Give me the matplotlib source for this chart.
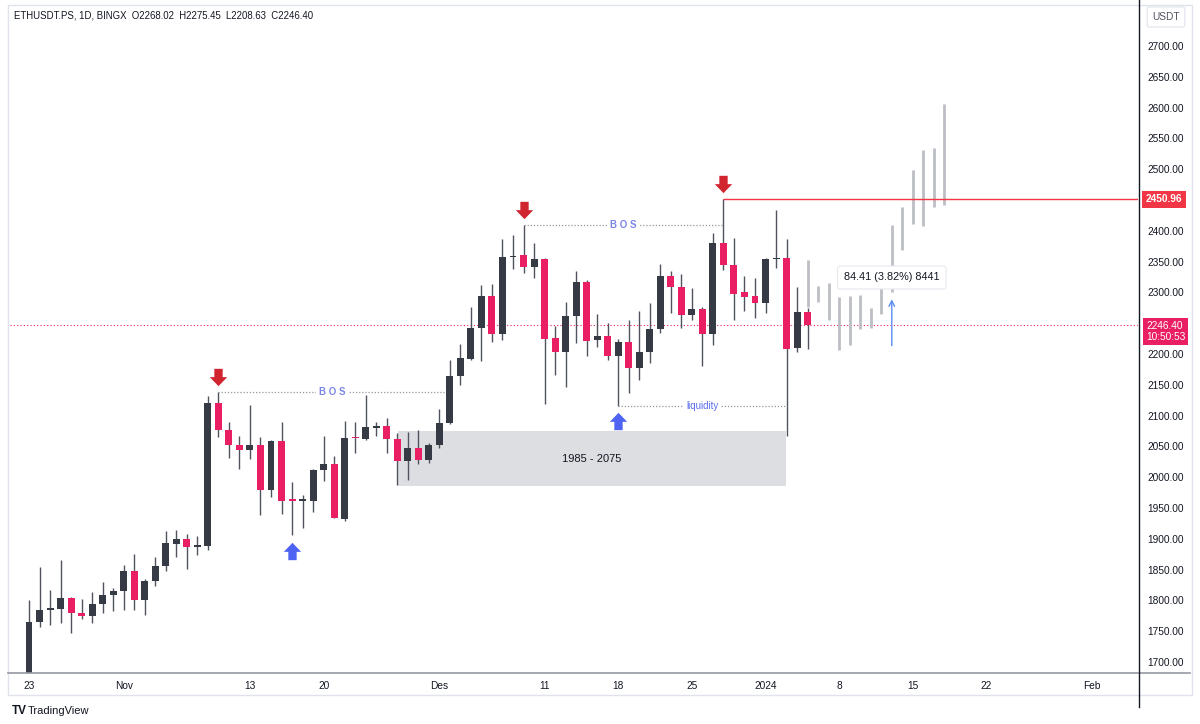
import matplotlib
matplotlib.use('Agg')
import matplotlib.pyplot as plt
import pandas as pd
from matplotlib.path import Path
from matplotlib.patches import Rectangle
from matplotlib.lines import Line2D
from matplotlib.transforms import offset_copy, blended_transform_factory

plt.rcParams['font.family'] = ['Liberation Sans', 'DejaVu Sans']

# daily candles ETHUSDT.PS, from 23 Oct 2023
start = pd.Timestamp('2023-10-23')
opens = [1665, 1765, 1785, 1786, 1804, 1780, 1775, 1794, 1809, 1815,
         1847, 1801, 1832, 1856, 1892, 1900, 1887, 1888, 2121, 2077,
         2053, 2044, 2053, 1979, 2059, 1963, 1962, 1962, 2012, 2021,
         1932, 2065, 2062, 2080, 2083, 2062, 2027, 2048, 2028, 2052,
         2088, 2164, 2192, 2243, 2294, 2232, 2357, 2360, 2341, 2354,
         2226, 2204, 2261, 2317, 2222, 2230, 2197, 2220, 2178, 2203,
         2241, 2327, 2309, 2264, 2273, 2232, 2381, 2345, 2300, 2294,
         2282, 2354, 2356, 2210, 2268.02]
highs = [1801, 1855, 1817, 1866, 1806, 1803, 1813, 1830, 1820, 1858,
         1876, 1834, 1870, 1913, 1914, 1908, 1905, 2132, 2138, 2089,
         2067, 2118, 2066, 2060, 2090, 1992, 1971, 2013, 2067, 2034,
         2092, 2090, 2134, 2090, 2096, 2071, 2074, 2077, 2055, 2111,
         2190, 2217, 2277, 2312, 2313, 2386, 2394, 2409, 2381, 2356,
         2245, 2285, 2334, 2320, 2265, 2250, 2225, 2255, 2270, 2282,
         2346, 2334, 2330, 2307, 2277, 2396, 2450.96, 2389, 2326, 2324,
         2356, 2434, 2387, 2309, 2275.45]
lows = [1655, 1756, 1760, 1763, 1747, 1769, 1763, 1779, 1782, 1784,
        1785, 1777, 1824, 1847, 1871, 1851, 1873, 1882, 2066, 2031,
        2013, 2030, 1938, 1968, 1941, 1906, 1917, 1944, 1994, 1933,
        1929, 2040, 2061, 2067, 2039, 1987, 1996, 2022, 2023, 2047,
        2087, 2150, 2190, 2189, 2220, 2223, 2338, 2331, 2323, 2119,
        2166, 2146, 2218, 2196, 2212, 2190, 2116, 2136, 2157, 2185,
        2234, 2267, 2243, 2255, 2181, 2215, 2337, 2256, 2270, 2259,
        2266, 2340, 2067, 2204, 2208.63]
closes = [1765, 1785, 1787, 1804, 1779, 1775, 1794, 1809, 1815, 1847,
          1801, 1832, 1856, 1893, 1900, 1886, 1889, 2121, 2077, 2053,
          2044, 2053, 1979, 2059, 1962, 1962, 1964, 2012, 2021, 1933,
          2064, 2063, 2081, 2082, 2062, 2027, 2048, 2028, 2052, 2088,
          2164, 2193, 2243, 2294, 2232, 2357, 2359, 2341, 2354, 2225,
          2204, 2261, 2317, 2221, 2230, 2197, 2220, 2178, 2203, 2241,
          2327, 2308, 2264, 2273, 2232, 2380, 2345, 2298, 2292, 2282,
          2355, 2356, 2208, 2268, 2246.40]

# projected path (grey bars)
ghost_days = [74, 75, 76, 77, 78, 79, 80, 81, 82, 83, 84, 85, 86, 87]
ghost_highs = [2353, 2310, 2315, 2292, 2294, 2296, 2274, 2307, 2409, 2438, 2498, 2532, 2534, 2606]
ghost_lows = [2277, 2285, 2256, 2207, 2215, 2240, 2242, 2265, 2300, 2369, 2411, 2408, 2439, 2442]

tick_dates = ['2023-10-23', '2023-11-01', '2023-11-13', '2023-11-20', '2023-12-01', '2023-12-11',
              '2023-12-18', '2023-12-25', '2024-01-01', '2024-01-08', '2024-01-15', '2024-01-22',
              '2024-02-01']
tick_labels = ['23', 'Nov', '13', '20', 'Des', '11', '18', '25', '2024', '8', '15', '22', 'Feb']
price_ticks = [p for p in range(1700, 2701, 50) if p not in (2250, 2450)]

# drawings
bos_lines = [(18, 39.6, 2138), (47, 66, 2409)]
liquidity = (56, 72, 2116)
zone = (35.1, 71.9, 1985, 2075)
zone_label = '1985 - 2075'
resistance = (66, 2450.96)
last_close = 2246.40
countdown = '10:50:53'
measure = (82, 2209, 2293.4, '84.41 (3.82%) 8441')
sell_days = [18, 47, 66]
buy_days = [25, 56]

DARK = '#363a45'
PINK = '#e91e63'
WICK = '#50535e'
TXT = '#131722'

fig = plt.figure(figsize=(12, 7.24), dpi=100)
W, H = 1200, 724
ax = fig.add_axes([10 / W, 1 - 673 / H, 1128 / W, 668 / H])
ax.set_xlim(-1.806, 105.4)
ax.set_ylim(1682.1, 2766.6)

days = list(range(len(opens)))

# zone behind candles
ax.add_patch(Rectangle((zone[0], zone[2]), zone[1] - zone[0], zone[3] - zone[2],
                       fc='#dddee2', ec='none', zorder=0.5))
ax.text((zone[0] + zone[1]) / 2, (zone[2] + zone[3]) / 2, zone_label,
        ha='center', va='center', fontsize=8, color=TXT, zorder=1)

ax.vlines(ghost_days, ghost_lows, ghost_highs, color='#bcbec5', lw=2, zorder=1.5)

for d, o, h, l, c in zip(days, opens, highs, lows, closes):
    col = DARK if c >= o else PINK
    ax.vlines(d, l, h, color=WICK, lw=1, zorder=2)
    ax.add_patch(Rectangle((d - 0.33, min(o, c)), 0.66, max(abs(c - o), 2.5),
                           fc=col, ec='none', zorder=3))

# last price line + resistance
ax.axhline(last_close, color=PINK, ls=(0, (1, 2)), lw=0.8, zorder=1)
ax.hlines(resistance[1], resistance[0], ax.get_xlim()[1], color='#f23645', lw=1, zorder=2)

# BOS / liquidity dotted lines
for x0, x1, p in bos_lines:
    ax.hlines(p, x0, x1, color='#9598a1', ls=(0, (1, 1.5)), lw=0.9, zorder=2)
    ax.text((x0 + x1) / 2, p, 'B O S', ha='center', va='center', fontsize=7,
            fontweight='bold', color='#7b87e6', zorder=4,
            bbox=dict(boxstyle='square,pad=0.3', fc='white', ec='none'))
ax.hlines(liquidity[2], liquidity[0], liquidity[1], color='#9598a1', ls=(0, (1, 1.5)), lw=0.9, zorder=2)
ax.text((liquidity[0] + liquidity[1]) / 2, liquidity[2], 'liquidity', ha='center', va='center',
        fontsize=7, color='#5b6cf0', zorder=4,
        bbox=dict(boxstyle='square,pad=0.3', fc='white', ec='none'))

# block arrows
down = Path([(-0.24, 0.5), (0.24, 0.5), (0.24, 0.02), (0.5, 0.02), (0, -0.5),
             (-0.5, 0.02), (-0.24, 0.02), (-0.24, 0.5)], closed=True)
up = Path([(x, -y) for x, y in down.vertices], closed=True)
tr_dn = offset_copy(ax.transData, fig=fig, y=15, units='dots')
tr_up = offset_copy(ax.transData, fig=fig, y=-15.5, units='dots')
for d in sell_days:
    ax.plot(d, highs[d], marker=down, ms=12.5, color='#d0252f', mec='none', transform=tr_dn, zorder=5)
for d in buy_days:
    ax.plot(d, lows[d], marker=up, ms=12.5, color='#4f63f3', mec='none', transform=tr_up, zorder=5)

# price range measure
ax.annotate('', xy=(measure[0], measure[2]), xytext=(measure[0], measure[1]),
            arrowprops=dict(arrowstyle='->', color='#5b8def', lw=1), zorder=5)
tr_lbl = offset_copy(ax.transData, fig=fig, y=19, units='dots')
ax.text(measure[0], measure[2], measure[3], transform=tr_lbl, ha='center', va='center',
        fontsize=7.8, color=TXT, zorder=6,
        bbox=dict(boxstyle='round,pad=0.6,rounding_size=0.3', fc='white', ec='#e6e8ee', lw=0.8))

# axes styling
for s in ['top', 'left', 'right', 'bottom']:
    ax.spines[s].set_visible(False)
ax.yaxis.tick_right()
ax.set_yticks(price_ticks)
ax.set_yticklabels([f'{p:.2f}' for p in price_ticks])
ax.tick_params(axis='y', length=0, pad=7, labelsize=7.3, labelcolor=TXT)
ax.set_xticks([(pd.Timestamp(t) - start).days for t in tick_dates])
ax.set_xticklabels(tick_labels)
ax.tick_params(axis='x', length=0, pad=6, labelsize=7.3, labelcolor=TXT)

# right scale labels
tb = blended_transform_factory(ax.transAxes, ax.transData)
ax.text(1.0 + 8 / 1128, resistance[1], f'{resistance[1]:.2f}', transform=tb, ha='left', va='center',
        fontsize=7.3, color='white', fontweight='bold', clip_on=False, zorder=6,
        bbox=dict(boxstyle='square,pad=0.35', fc='#f23645', ec='none'))
tb_lp = offset_copy(tb, fig=fig, y=-6, units='dots')
ax.text(1.0 + 8 / 1128, last_close, f'{last_close:.2f}\n{countdown}', transform=tb_lp, ha='left',
        va='center', fontsize=7.3, color='white', linespacing=1.05, clip_on=False, zorder=6,
        bbox=dict(boxstyle='square,pad=0.3', fc=PINK, ec='none'))

# frame lines
fig.add_artist(Rectangle((8 / W, 1 - 695 / H), 1184 / W, 690 / H, transform=fig.transFigure,
                         fill=False, ec='#e0e3eb', lw=1))
fig.add_artist(Line2D([8 / W, 1190 / W], [1 - 673 / H] * 2, color='#9598a1', lw=1.2))
fig.add_artist(Line2D([1139 / W] * 2, [1 - 707 / H, 1], color=TXT, lw=1))

fig.text(1166 / W, 1 - 17 / H, 'USDT', ha='center', va='center', fontsize=7.3, color='#50535e',
         bbox=dict(boxstyle='round,pad=0.5,rounding_size=0.2', fc='white', ec='#e0e3eb', lw=0.8))
fig.text(14 / W, 1 - 16 / H, 'ETHUSDT.PS, 1D, BINGX  O2268.02  H2275.45  L2208.63  C2246.40',
         ha='left', va='center', fontsize=6.9, color=TXT)
fig.text(12 / W, 1 - 711 / H, 'TV', ha='left', va='center', fontsize=8.5, fontweight='heavy', color=TXT)
fig.text(28 / W, 1 - 711 / H, 'TradingView', ha='left', va='center', fontsize=8, color=TXT)

fig.savefig('out.png', dpi=100, facecolor='white')
